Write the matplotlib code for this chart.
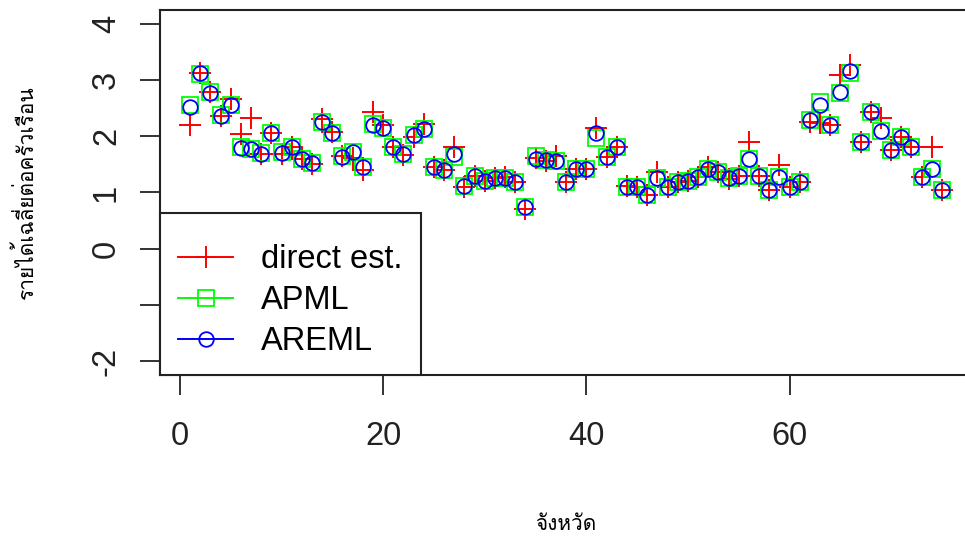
import numpy as np
import matplotlib
matplotlib.use('Agg')
import matplotlib.pyplot as plt
from matplotlib import font_manager, ft2font

province = np.arange(1, 76)
direct_est = [2.20, 3.12, 2.78, 2.35, 2.66, 2.04, 2.32, 1.68, 2.06, 1.68,
              1.80, 1.60, 1.50, 2.30, 2.08, 1.65, 1.62, 1.40, 2.43, 2.20,
              1.80, 1.66, 1.98, 2.22, 1.45, 1.40, 1.80, 1.10, 1.30, 1.20,
              1.26, 1.28, 1.18, 0.70, 1.62, 1.56, 1.64, 1.18, 1.42, 1.42,
              2.15, 1.63, 1.80, 1.12, 1.10, 0.95, 1.37, 1.10, 1.18, 1.21,
              1.27, 1.45, 1.36, 1.24, 1.30, 1.90, 1.30, 1.04, 1.48, 1.10,
              1.18, 2.25, 2.23, 2.20, 3.09, 3.27, 1.90, 2.43, 2.32, 1.75,
              1.99, 1.80, 1.27, 1.80, 1.04]
apml = [2.55, 3.10, 2.78, 2.38, 2.55, 1.80, 1.77, 1.70, 2.06, 1.72,
        1.80, 1.60, 1.53, 2.26, 2.06, 1.64, 1.72, 1.45, 2.22, 2.14,
        1.80, 1.68, 2.02, 2.12, 1.45, 1.40, 1.63, 1.12, 1.30, 1.21,
        1.26, 1.26, 1.18, 0.75, 1.65, 1.57, 1.56, 1.18, 1.42, 1.42,
        1.96, 1.63, 1.80, 1.10, 1.10, 0.95, 1.26, 1.10, 1.18, 1.21,
        1.27, 1.42, 1.36, 1.26, 1.30, 1.60, 1.30, 1.04, 1.27, 1.10,
        1.18, 2.29, 2.61, 2.20, 2.77, 3.12, 1.90, 2.43, 2.09, 1.75,
        1.99, 1.80, 1.27, 1.42, 1.04]
areml = [2.52, 3.12, 2.77, 2.36, 2.55, 1.79, 1.77, 1.68, 2.06, 1.70,
         1.80, 1.60, 1.52, 2.26, 2.06, 1.63, 1.72, 1.45, 2.20, 2.14,
         1.80, 1.68, 2.02, 2.12, 1.45, 1.40, 1.68, 1.12, 1.30, 1.21,
         1.26, 1.26, 1.18, 0.75, 1.60, 1.57, 1.56, 1.18, 1.42, 1.42,
         2.05, 1.63, 1.80, 1.10, 1.10, 0.95, 1.26, 1.10, 1.18, 1.21,
         1.27, 1.42, 1.36, 1.26, 1.30, 1.60, 1.30, 1.04, 1.27, 1.10,
         1.18, 2.29, 2.55, 2.20, 2.79, 3.15, 1.90, 2.43, 2.09, 1.75,
         1.99, 1.80, 1.27, 1.42, 1.04]
x_ticks = [0, 20, 40, 60]
y_ticks = [-2, -1, 0, 1, 2, 3, 4]
y_tick_labels = ['-2', '', '0', '1', '2', '3', '4']


def thai_family():
    # first installed font that has Thai glyphs
    for f in font_manager.fontManager.ttflist:
        try:
            if 0x0E08 in ft2font.FT2Font(f.fname).get_charmap():
                return f.name
        except Exception:
            pass
    return 'DejaVu Sans'


thai = thai_family()
plt.rcParams['font.family'] = ['Liberation Sans', 'DejaVu Sans']

fig = plt.figure(figsize=(9.65, 5.38), dpi=100)
ax = fig.add_axes([160 / 965, 163 / 538, 812 / 965, 365 / 538])

ax.plot(province, direct_est, ls='none', marker='+', ms=16, mew=1.4, color='#FF0000', label='direct est.')
ax.plot(province, apml, ls='none', marker='s', ms=12, mew=1.3, mfc='none', color='#00FF00', label='APML')
ax.plot(province, areml, ls='none', marker='o', ms=10.5, mew=1.3, mfc='none', color='#0000FF', label='AREML')

ax.set_xticks(x_ticks)
ax.set_yticks(y_ticks)
ax.set_xlim(1 - 0.04 * 74, 75 + 0.04 * 74)
ax.set_ylim(-2 - 0.24, 4 + 0.24)
ax.set_yticklabels(y_tick_labels, rotation=90, va='center')
ax.tick_params(length=14.4, width=1.3, labelsize=23.5, color='#222222', labelcolor='#222222')
ax.tick_params(axis='x', pad=19)
ax.tick_params(axis='y', pad=13)
for s in ax.spines.values():
    s.set_linewidth(1.5)
    s.set_color('#222222')

ax.set_xlabel('จังหวัด', family=[thai, 'DejaVu Sans'], fontsize=15, va='center')
ax.xaxis.set_label_coords(0.5, -0.41)
ax.set_ylabel('รายได้เฉลี่ยต่อครัวเรือน', family=[thai, 'DejaVu Sans'], fontsize=15, va='center')
ax.yaxis.set_label_coords(-0.166, 0.5)

# blank tiny title gives the extra room above the first row, like R's legend box
leg = ax.legend(loc='lower left', bbox_to_anchor=(0, 0), borderaxespad=0, fontsize=23.5,
                handlelength=1.7, handletextpad=0.85, labelspacing=0.3, borderpad=0.55,
                title=' ', title_fontsize=2.5, fancybox=False, framealpha=1)
leg.get_frame().set_edgecolor('#222222')
leg.get_frame().set_linewidth(1.5)
for h in leg.legend_handles:
    h.set_linestyle('-')
    h.set_linewidth(1.4)

fig.savefig('out.png', dpi=100)
